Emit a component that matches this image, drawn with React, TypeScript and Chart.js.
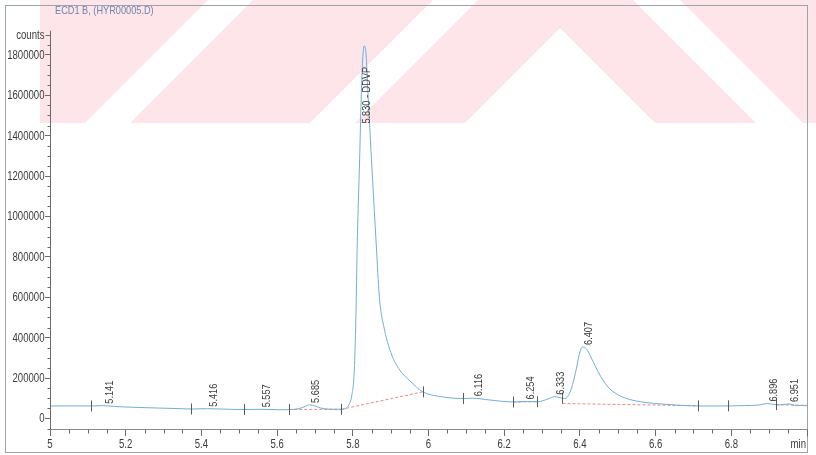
import React, { useEffect, useRef } from 'react';
import { Chart, registerables } from 'chart.js';

Chart.register(...registerables);

const FONT = '"Liberation Sans", Arial, sans-serif';
// horizontal squeeze that gives the narrow printout lettering
const SQUEEZE = 0.8;

const TITLE = 'ECD1 B, (HYR00005.D)';
const Y_UNIT = 'counts';
const X_UNIT = 'min';

const X_MIN = 5;
const X_MAX = 7;
const Y_MIN = -52000;
const Y_MAX = 2047000;
const Y_AXIS_TOP = 1920000;
const Y_UNIT_AT = 1900000;

const X_TICKS = [5, 5.2, 5.4, 5.6, 5.8, 6, 6.2, 6.4, 6.6, 6.8];
const X_TICK_LABELS = ['5', '5.2', '5.4', '5.6', '5.8', '6', '6.2', '6.4', '6.6', '6.8'];
const X_MINOR_STEP = 0.05;
const Y_TICKS = [0, 200000, 400000, 600000, 800000, 1000000, 1200000, 1400000, 1600000, 1800000];
const Y_TICK_LABELS = ['0', '200000', '400000', '600000', '800000', '1000000', '1200000', '1400000', '1600000', '1800000'];
const Y_MINOR_STEP = 50000;

// detector trace: retention time (min) and response (counts)
const TIME = [
  5.000, 5.060, 5.109, 5.141, 5.180, 5.236, 5.290, 5.340, 5.374, 5.416,
  5.474, 5.514, 5.557, 5.606, 5.638, 5.660, 5.674, 5.686, 5.700, 5.715,
  5.740, 5.770, 5.781, 5.789, 5.797, 5.804, 5.808, 5.812, 5.818, 5.822,
  5.826, 5.830, 5.834, 5.841, 5.848, 5.856, 5.862, 5.870, 5.884, 5.903,
  5.924, 5.951, 5.985, 6.030, 6.091, 6.116, 6.162, 6.225, 6.254, 6.289,
  6.315, 6.333, 6.348, 6.361, 6.374, 6.387, 6.400, 6.407, 6.417, 6.430,
  6.441, 6.453, 6.472, 6.493, 6.520, 6.560, 6.630, 6.718, 6.771, 6.837,
  6.870, 6.896, 6.925, 6.951, 6.974, 7.000,
];
const SIGNAL = [
  62000, 62500, 62000, 63500, 58500, 54500, 51500, 49000, 47000, 48500,
  45500, 44500, 45500, 43500, 44500, 50000, 60000, 68000, 62000, 52000,
  46000, 45500, 49500, 67000, 111000, 240000, 488000, 884000, 1280000, 1577000,
  1775000, 1844000, 1824000, 1577000, 1329000, 1057000, 859000, 606000, 438000, 314000,
  240000, 186000, 132000, 109000, 99000, 100500, 91500, 81700, 84500, 83000,
  96500, 108000, 103000, 99000, 131000, 215000, 329000, 354000, 345000, 300000,
  258000, 215000, 161000, 126000, 101000, 83000, 70000, 62000, 62000, 64000,
  66000, 74000, 67000, 72000, 64000, 64000,
];

const PEAK_TIMES = [5.141, 5.416, 5.557, 5.685, 5.830, 6.116, 6.254, 6.333, 6.407, 6.896, 6.951];
const PEAK_NAMES = ['', '', '', '', 'DDVP', '', '', '', '', '', ''];
const LABEL_CEILING = 1460000;

// integration start / end marks
const MARKER_TIMES = [5.108, 5.373, 5.513, 5.632, 5.770, 5.985, 6.090, 6.224, 6.286, 6.354, 6.713, 6.792, 6.918];

// drawn baselines under the integrated peaks: [time, counts]
const BASELINE_FROM = [[5.632, 44500], [5.770, 45500], [6.224, 81700], [6.354, 74000], [6.918, 68000]];
const BASELINE_TO = [[5.770, 45500], [5.985, 132000], [6.286, 83000], [6.713, 63000], [7.0, 65000]];

const TRACE_COLOR = '#6eb0d8';
const BASELINE_COLOR = '#e58a8a';
const AXIS_COLOR = '#6b6b6b';
const TEXT_COLOR = '#3c3c3c';

function signalAt(t: number): number {
  for (let i = 1; i < TIME.length; i++) {
    if (t <= TIME[i]) {
      const f = (t - TIME[i - 1]) / (TIME[i] - TIME[i - 1]);
      return SIGNAL[i - 1] + f * (SIGNAL[i] - SIGNAL[i - 1]);
    }
  }
  return SIGNAL[SIGNAL.length - 1];
}

function narrowText(
  ctx: CanvasRenderingContext2D,
  text: string,
  x: number,
  y: number,
  size: number,
  align: CanvasTextAlign,
  baseline: CanvasTextBaseline,
  color: string,
  vertical = false,
) {
  ctx.save();
  ctx.translate(x, y);
  if (vertical) ctx.rotate(-Math.PI / 2);
  ctx.scale(SQUEEZE, 1);
  ctx.font = `${size}px ${FONT}`;
  ctx.textAlign = align;
  ctx.textBaseline = baseline;
  ctx.fillStyle = color;
  ctx.fillText(text, 0, 0);
  ctx.restore();
}

function drawWatermark(ctx: CanvasRenderingContext2D, w: number) {
  const bandBottom = 123;
  ctx.save();
  ctx.beginPath();
  ctx.rect(0, 0, w, bandBottom);
  ctx.clip();
  ctx.fillStyle = '#fde5e9';
  ctx.fillRect(0, 0, w, bandBottom);
  ctx.fillStyle = '#ffffff';
  const poly = (pts: number[][]) => {
    ctx.beginPath();
    pts.forEach(([x, y], i) => (i ? ctx.lineTo(x, y) : ctx.moveTo(x, y)));
    ctx.closePath();
    ctx.fill();
  };
  poly([[0, 0], [40, 0], [40, bandBottom], [0, bandBottom]]);
  poly([[85, bandBottom], [130, bandBottom], [253, 0], [208, 0]]);
  poly([[310, bandBottom], [355, bandBottom], [478, 0], [433, 0]]);
  poly([[560, 28], [655, bandBottom], [465, bandBottom]]);
  poly([[633, 0], [680, 0], [803, bandBottom], [756, bandBottom]]);
  ctx.restore();
}

const chromPlugin = {
  id: 'chromDecor',
  beforeDraw(chart: any) {
    const { ctx, width, height } = chart;
    ctx.save();
    ctx.fillStyle = '#ffffff';
    ctx.fillRect(0, 0, width, height);
    drawWatermark(ctx, width);
    ctx.restore();
  },
  afterDraw(chart: any) {
    const { ctx, chartArea, height } = chart;
    const xs = chart.scales.x;
    const ys = chart.scales.y;
    ctx.save();

    // outer frame
    ctx.strokeStyle = '#9aa4ac';
    ctx.lineWidth = 1;
    ctx.strokeRect(5.5, 5.5, chartArea.right - 5, height - 8);

    // y axis line
    ctx.strokeStyle = AXIS_COLOR;
    ctx.beginPath();
    const ax = Math.round(chartArea.left) + 0.5;
    ctx.moveTo(ax, ys.getPixelForValue(Y_AXIS_TOP));
    ctx.lineTo(ax, chartArea.bottom);
    ctx.stroke();

    // minor ticks
    ctx.beginPath();
    for (let v = -Y_MINOR_STEP; v <= Y_AXIS_TOP; v += Y_MINOR_STEP) {
      if (Y_TICKS.includes(v)) continue;
      const y = Math.round(ys.getPixelForValue(v)) + 0.5;
      ctx.moveTo(ax - (v === Y_UNIT_AT ? 5 : 3), y);
      ctx.lineTo(ax, y);
    }
    const ay = Math.round(chartArea.bottom) + 0.5;
    for (let k = 0; X_MIN + k * X_MINOR_STEP <= X_MAX + 1e-9; k++) {
      const t = X_MIN + k * X_MINOR_STEP;
      if (X_TICKS.some((m) => Math.abs(m - t) < 1e-6)) continue;
      const x = Math.round(xs.getPixelForValue(t)) + 0.5;
      ctx.moveTo(x, ay);
      ctx.lineTo(x, ay + (Math.abs(t - X_MAX) < 1e-6 ? 7 : 4));
    }
    ctx.stroke();

    // tick labels
    Y_TICKS.forEach((v, i) => {
      narrowText(ctx, Y_TICK_LABELS[i], ax - 6, ys.getPixelForValue(v) + 0.5, 12, 'right', 'middle', TEXT_COLOR);
    });
    X_TICKS.forEach((t, i) => {
      narrowText(ctx, X_TICK_LABELS[i], xs.getPixelForValue(t), chartArea.bottom + 16, 12, 'center', 'middle', TEXT_COLOR);
    });

    // unit labels and title
    narrowText(ctx, Y_UNIT, ax - 6, ys.getPixelForValue(Y_UNIT_AT) + 1, 12, 'right', 'middle', TEXT_COLOR);
    narrowText(ctx, X_UNIT, xs.getPixelForValue(X_MAX) - 1, chartArea.bottom + 16, 12, 'right', 'middle', TEXT_COLOR);
    narrowText(ctx, TITLE, chartArea.left + 5, 11, 11.5, 'left', 'middle', '#6f86a8');

    // integration marks
    ctx.strokeStyle = '#5a5a5a';
    ctx.beginPath();
    MARKER_TIMES.forEach((t) => {
      const x = Math.round(xs.getPixelForValue(t)) + 0.5;
      const y = ys.getPixelForValue(signalAt(t));
      ctx.moveTo(x, y - 5.5);
      ctx.lineTo(x, y + 5.5);
    });
    ctx.stroke();

    // peak retention time labels
    PEAK_TIMES.forEach((t, i) => {
      const text = PEAK_NAMES[i] ? `${t.toFixed(3)} - ${PEAK_NAMES[i]}` : t.toFixed(3);
      const x = xs.getPixelForValue(t);
      const v = signalAt(t);
      if (v > LABEL_CEILING) {
        narrowText(ctx, text, x + 2.5, ys.getPixelForValue(LABEL_CEILING), 11.5, 'left', 'middle', TEXT_COLOR, true);
      } else {
        narrowText(ctx, text, x + 0.5, ys.getPixelForValue(v) - 2, 11.5, 'left', 'top', TEXT_COLOR, true);
      }
    });

    ctx.restore();
  },
};

export default function App() {
  const canvasRef = useRef<HTMLCanvasElement | null>(null);

  useEffect(() => {
    if (!canvasRef.current) return;
    const trace = TIME.map((t, i) => ({ x: t, y: SIGNAL[i] }));
    const baselines = BASELINE_FROM.map((from, i) => ({
      data: [
        { x: from[0], y: from[1] },
        { x: BASELINE_TO[i][0], y: BASELINE_TO[i][1] },
      ],
      borderColor: BASELINE_COLOR,
      borderWidth: 1,
      borderDash: [3, 2],
      pointRadius: 0,
      fill: false,
    }));

    const chart = new Chart(canvasRef.current, {
      type: 'line',
      data: {
        datasets: [
          {
            data: trace,
            borderColor: TRACE_COLOR,
            borderWidth: 1,
            pointRadius: 0,
            fill: false,
            cubicInterpolationMode: 'monotone',
          },
          ...baselines,
        ],
      },
      options: {
        animation: false,
        responsive: true,
        maintainAspectRatio: false,
        layout: { padding: { left: 0, right: 9, top: 5, bottom: 0 } },
        plugins: { legend: { display: false }, tooltip: { enabled: false } },
        scales: {
          x: {
            type: 'linear',
            min: X_MIN,
            max: X_MAX,
            afterBuildTicks: (s: any) => {
              s.ticks = X_TICKS.map((value) => ({ value }));
            },
            afterFit: (s: any) => {
              s.height = 26;
            },
            ticks: { display: false },
            grid: { drawOnChartArea: false, tickLength: 7, tickColor: AXIS_COLOR, color: AXIS_COLOR },
            border: { display: true, color: '#8a8a8a', dash: [2, 2] },
          },
          y: {
            type: 'linear',
            min: Y_MIN,
            max: Y_MAX,
            afterBuildTicks: (s: any) => {
              s.ticks = Y_TICKS.map((value) => ({ value }));
            },
            afterFit: (s: any) => {
              s.width = 50;
            },
            ticks: { display: false },
            grid: { drawOnChartArea: false, tickLength: 5, tickColor: AXIS_COLOR, color: AXIS_COLOR },
            border: { display: false },
          },
        },
      },
      plugins: [chromPlugin],
    });
    return () => chart.destroy();
  }, []);

  return (
    <div style={{ position: 'absolute', left: 0, top: 0, width: 816, height: 455 }}>
      <canvas ref={canvasRef} />
    </div>
  );
}
